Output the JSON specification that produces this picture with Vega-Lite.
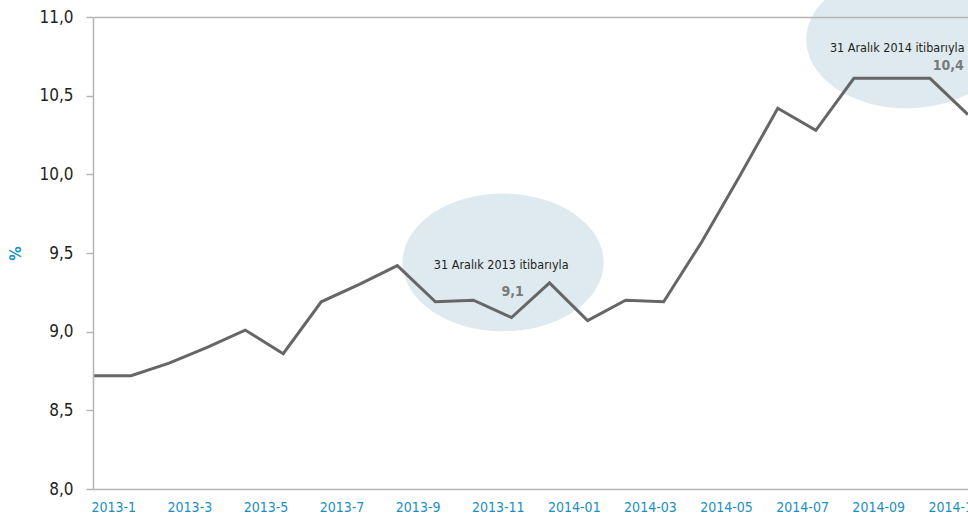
{
  "$schema": "https://vega.github.io/schema/vega-lite/v6.json",
  "width": 875,
  "height": 472,
  "autosize": {"type": "none"},
  "padding": {"left": 93, "top": 17, "right": 0, "bottom": 28},
  "background": "white",
  "config": {"view": {"stroke": null}, "font": "DejaVu Sans Condensed"},
  "datasets": {
    "series": [
      {"i": 0, "month": "2013-1", "v": 8.72},
      {"i": 1, "month": "2013-2", "v": 8.72},
      {"i": 2, "month": "2013-3", "v": 8.80},
      {"i": 3, "month": "2013-4", "v": 8.90},
      {"i": 4, "month": "2013-5", "v": 9.01},
      {"i": 5, "month": "2013-6", "v": 8.86},
      {"i": 6, "month": "2013-7", "v": 9.19},
      {"i": 7, "month": "2013-8", "v": 9.30},
      {"i": 8, "month": "2013-9", "v": 9.42},
      {"i": 9, "month": "2013-10", "v": 9.19},
      {"i": 10, "month": "2013-11", "v": 9.20},
      {"i": 11, "month": "2013-12", "v": 9.09},
      {"i": 12, "month": "2014-01", "v": 9.31},
      {"i": 13, "month": "2014-02", "v": 9.07},
      {"i": 14, "month": "2014-03", "v": 9.20},
      {"i": 15, "month": "2014-04", "v": 9.19},
      {"i": 16, "month": "2014-05", "v": 9.57},
      {"i": 17, "month": "2014-06", "v": 9.99},
      {"i": 18, "month": "2014-07", "v": 10.42},
      {"i": 19, "month": "2014-08", "v": 10.28},
      {"i": 20, "month": "2014-09", "v": 10.61},
      {"i": 21, "month": "2014-10", "v": 10.61},
      {"i": 22, "month": "2014-11", "v": 10.61},
      {"i": 23, "month": "2014-12", "v": 10.38}
    ],
    "ellipses": [
      {"i": 10.78, "v": 9.44},
      {"i": 21.39, "v": 10.857}
    ],
    "notes": [
      {"i": 10.73, "v": 9.398, "kind": "label", "text": "31 Aralık 2013 itibarıyla"},
      {"i": 11.03, "v": 9.227, "kind": "value", "text": "9,1"},
      {"i": 21.14, "v": 10.778, "kind": "label", "text": "31 Aralık 2014 itibarıyla"},
      {"i": 22.48, "v": 10.663, "kind": "value", "text": "10,4"}
    ]
  },
  "encoding": {
    "x": {
      "field": "i",
      "type": "quantitative",
      "scale": {"domain": [0, 23], "nice": false, "zero": false},
      "axis": {
        "values": [0, 2, 4, 6, 8, 10, 12, 14, 16, 18, 20, 23],
        "labelExpr": "['2013-1','2013-2','2013-3','2013-4','2013-5','2013-6','2013-7','2013-8','2013-9','2013-10','2013-11','2013-12','2014-01','2014-02','2014-03','2014-04','2014-05','2014-06','2014-07','2014-08','2014-09','2014-10','2014-11','2014-12'][datum.value]",
        "title": null,
        "grid": false,
        "ticks": false,
        "tickSize": 0,
        "labelFlush": false,
        "labelOverlap": false,
        "labelBound": false,
        "labelAlign": "left",
        "labelOffset": {"condition": {"test": "datum.value == 23", "value": -40}, "value": -2},
        "labelPadding": 11,
        "labelFont": "DejaVu Sans Condensed",
        "labelFontSize": 14,
        "labelColor": "#1a8fc2",
        "domainColor": "#b5b5b5",
        "domainWidth": 1.5,
        "zindex": 1
      }
    },
    "y": {
      "field": "v",
      "type": "quantitative",
      "scale": {"domain": [8, 11], "nice": false, "zero": false},
      "axis": {
        "values": [8, 8.5, 9, 9.5, 10, 10.5, 11],
        "labelExpr": "replace(format(datum.value, '.1f'), '.', ',')",
        "title": "%",
        "titleColor": "#1a8fc2",
        "titleFont": "DejaVu Sans Condensed",
        "titleFontSize": 16,
        "titleFontWeight": "bold",
        "titlePadding": 15,
        "labelFont": "DejaVu Sans Condensed",
        "labelFontSize": 17,
        "labelColor": "#231f20",
        "labelPadding": 13,
        "tickSize": 7,
        "tickColor": "#b5b5b5",
        "tickWidth": 1.5,
        "domainColor": "#b5b5b5",
        "domainWidth": 1.5,
        "grid": true,
        "gridColor": "#b5b5b5",
        "gridWidth": 1.5,
        "gridOpacity": {"condition": {"test": "datum.value == 11", "value": 1}, "value": 0},
        "zindex": 1
      }
    }
  },
  "layer": [
    {
      "data": {"name": "ellipses"},
      "mark": {
        "type": "point",
        "shape": "M-1,0C-1,-0.378,-0.552,-0.685,0,-0.685C0.552,-0.685,1,-0.378,1,0C1,0.378,0.552,0.685,0,0.685C-0.552,0.685,-1,0.378,-1,0Z",
        "size": 40400,
        "filled": true,
        "fill": "#deeaf0",
        "opacity": 1,
        "strokeWidth": 0
      }
    },
    {
      "data": {"name": "series"},
      "mark": {"type": "line", "color": "#666666", "strokeWidth": 3, "strokeJoin": "miter"}
    },
    {
      "data": {"name": "notes"},
      "transform": [{"filter": "datum.kind == 'label'"}],
      "mark": {"type": "text", "font": "DejaVu Sans Condensed", "fontSize": 12.5, "color": "#231f20", "align": "center", "baseline": "alphabetic"},
      "encoding": {"text": {"field": "text"}}
    },
    {
      "data": {"name": "notes"},
      "transform": [{"filter": "datum.kind == 'value'"}],
      "mark": {"type": "text", "font": "DejaVu Sans Condensed", "fontSize": 14, "fontWeight": "bold", "color": "#7a7a7a", "align": "center", "baseline": "alphabetic"},
      "encoding": {"text": {"field": "text"}}
    }
  ]
}
